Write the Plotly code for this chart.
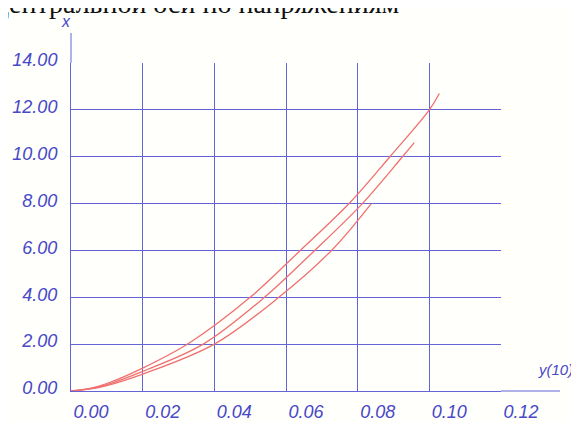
import plotly.graph_objects as go

# data
upper_x = [0.0, 0.005, 0.01, 0.02, 0.033, 0.05, 0.064, 0.0776, 0.089, 0.10, 0.1028]
upper_y = [0.0, 0.1, 0.32, 0.98, 2.05, 4.0, 6.0, 8.0, 10.0, 12.0, 12.7]
middle_x = [0.0, 0.005, 0.01, 0.02, 0.0369, 0.054, 0.068, 0.0813, 0.0925, 0.0958]
middle_y = [0.0, 0.09, 0.27, 0.84, 2.0, 4.0, 6.0, 8.0, 10.0, 10.6]
lower_x = [0.0, 0.005, 0.01, 0.02, 0.040, 0.058, 0.0727, 0.0838]
lower_y = [0.0, 0.08, 0.23, 0.72, 2.0, 4.0, 6.0, 8.0]

x_ticks = [0.0, 0.02, 0.04, 0.06, 0.08, 0.10, 0.12]
x_tick_labels = ["0.00", "0.02", "0.04", "0.06", "0.08", "0.10", "0.12"]
y_ticks = [0, 2, 4, 6, 8, 10, 12, 14]
y_tick_labels = ["0.00", "2.00", "4.00", "6.00", "8.00", "10.00", "12.00", "14.00"]

curve_color = "#f07070"
grid_color = "#6464d8"
label_color = "#4848c8"

fig = go.Figure()
for xs, ys in [(upper_x, upper_y), (middle_x, middle_y), (lower_x, lower_y)]:
    fig.add_trace(go.Scatter(x=xs, y=ys, mode="lines",
                             line=dict(color=curve_color, width=1.3, shape="spline", smoothing=1.0),
                             hoverinfo="skip", showlegend=False))

OFF = 8  # page body margin
W, H = 579 - OFF, 422 - OFF
L, T = 71 - OFF, 63 - OFF
R = W - (501 - OFF)
B = H - (391 - OFF)
pw, ph = W - L - R, H - T - B


def px(xp):  # page x -> paper x
    return (xp - OFF - L) / pw


def py(yp):  # page y -> paper y
    return (H - B - (yp - OFF)) / ph


tick_font = dict(family="Liberation Sans, Arial", size=18, color=label_color, style="italic")

fig.update_layout(
    width=W, height=H,
    margin=dict(l=L, r=R, t=T, b=B, pad=0, autoexpand=False),
    paper_bgcolor="#fffffb", plot_bgcolor="#fffffb",
    xaxis=dict(range=[0, 0.12], tickvals=x_ticks, ticktext=x_tick_labels,
               showgrid=True, gridcolor=grid_color, gridwidth=1,
               zeroline=False, showline=True, linecolor=grid_color, linewidth=1,
               ticks="", tickfont=tick_font, ticklabelshift=20, ticklabelstandoff=4,
               automargin=False, fixedrange=True),
    yaxis=dict(range=[0, 14], tickvals=y_ticks, ticktext=y_tick_labels,
               showgrid=True, gridcolor=grid_color, gridwidth=1,
               zeroline=False, showline=True, linecolor=grid_color, linewidth=1,
               ticks="", tickfont=tick_font, ticklabelshift=-3, ticklabelstandoff=9,
               automargin=False, fixedrange=True),
    showlegend=False,
)

# axis extensions (x axis line beyond 0.12, y axis line above 14)
fig.add_shape(type="line", xref="paper", yref="paper",
              x0=1, x1=px(560), y0=0, y1=0,
              line=dict(color=grid_color, width=1))
fig.add_shape(type="line", xref="paper", yref="paper",
              x0=0, x1=0, y0=1, y1=py(33),
              line=dict(color=grid_color, width=1))

# axis titles
fig.add_annotation(text="x", xref="paper", yref="paper",
                   x=px(66), y=py(21), showarrow=False,
                   font=dict(family="Liberation Sans, Arial", size=16, color=label_color, style="italic"),
                   xanchor="center", yanchor="middle")
fig.add_annotation(text="y(10)", xref="paper", yref="paper",
                   x=px(575), y=py(369), showarrow=False,
                   font=dict(family="Liberation Sans, Arial", size=15, color=label_color, style="italic"),
                   xanchor="right", yanchor="middle")

# cut-off caption at top
fig.add_annotation(text="центральной оси по напряжениям", xref="paper", yref="paper",
                   x=px(402), y=py(4), showarrow=False,
                   font=dict(family="Liberation Serif, Times New Roman", size=28, color="#111111"),
                   xanchor="right", yanchor="middle")

fig.write_html("out.html")
